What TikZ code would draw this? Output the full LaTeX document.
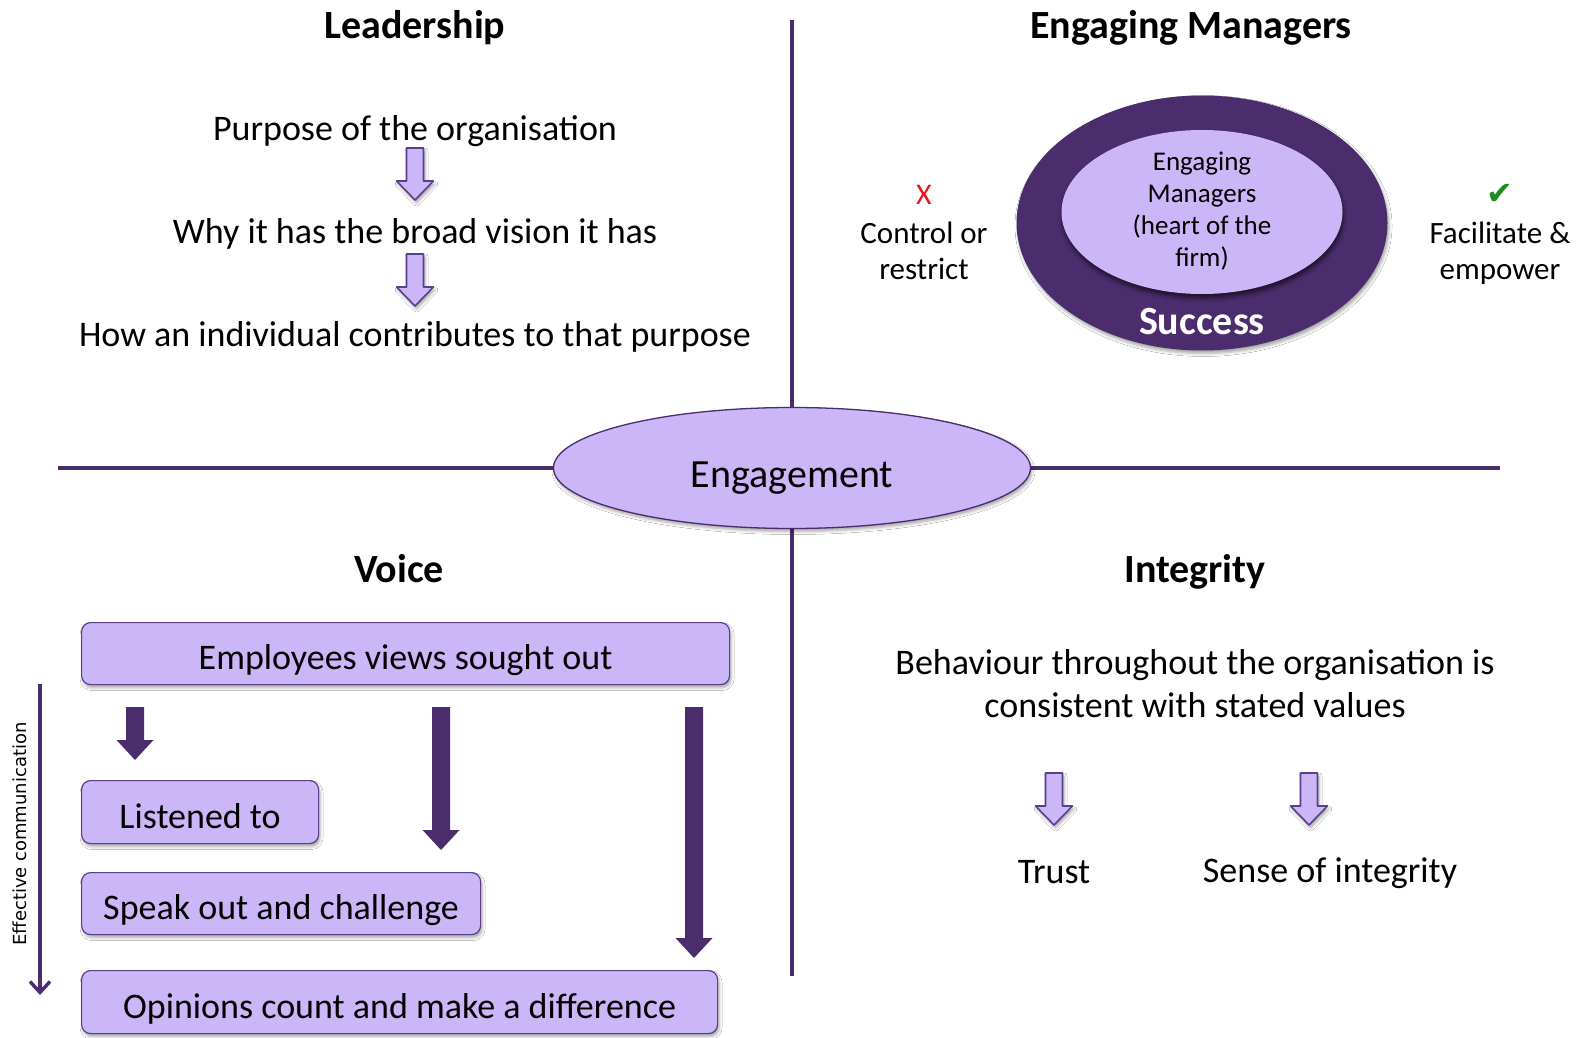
\documentclass[tikz,border=0pt]{standalone}
\usepackage{fontspec}
\setmainfont{Carlito}
\newfontfamily\dejavu{DejaVu Sans}
\usetikzlibrary{shapes.geometric,shadows.blur,arrows.meta}
\definecolor{lav}{HTML}{CBB6F8}
\definecolor{plum}{HTML}{4B2C6C}
\definecolor{edge}{HTML}{5C3F8A}
\definecolor{okgreen}{HTML}{1E8C1E}
\definecolor{nored}{HTML}{E8141E}
\newcommand\fs[1]{\fontsize{#1}{#1}\selectfont}

\begin{document}
\begin{tikzpicture}[x=1pt,y=-1pt,
  title/.style={font=\fs{40}\bfseries, inner sep=0pt},
  body/.style={font=\fs{36}, inner sep=0pt},
  side/.style={font=\fontsize{31}{36}\selectfont, inner sep=0pt, align=center},
  quad/.style={plum, line width=4pt},
  hub/.style={ellipse, minimum width=477pt, minimum height=121pt, inner sep=0pt},
  softshadow/.style={blur shadow={shadow xshift=1.5pt, shadow yshift=-3pt, shadow blur radius=3pt, shadow opacity=35}},
  voicebox/.style={draw=edge, line width=1.2pt, fill=lav, rounded corners=9pt, inner sep=0pt,
                   text height=34pt, text depth=2pt, font=\fs{36}, softshadow},
  hollow/.style={draw=edge, line width=1.6pt, fill=lav, line join=round, softshadow},
  pics/hollowdown/.style={code={
    \path[hollow] (-8.5,0) -- (-8.5,33) -- (-18.5,33) -- (0,52) -- (18.5,33) -- (8.5,33) -- (8.5,0) -- cycle;}},
  pics/soliddown/.style={code={
    \fill[plum] (-9,0) -- (-9,#1-20) -- (-18.5,#1-20) -- (0,#1) -- (18.5,#1-20) -- (9,#1-20) -- (9,0) -- cycle;}},
]
\useasboundingbox (0,0) rectangle (1585,1038);
\fill[white] (0,0) rectangle (1585,1038);

% the two axes meet at the central hub
\node[hub] (eng) at (792,468) {};
\coordinate (axtop) at (792,20);
\coordinate (axbot) at (792,976);
\coordinate (axleft) at (58,468);
\coordinate (axright) at (1500,468);
\draw[quad] (axtop) -- (eng.north);
\draw[quad] (eng.south) -- (axbot);
\draw[quad] (axleft) -- (eng.west);
\draw[quad] (eng.east) -- (axright);
\node[hub, draw=plum, line width=1.3pt, fill=lav, softshadow] (engfill) at (eng.center) {};
\node[font=\fs{40}, inner sep=0pt] (engt) at ([yshift=-10pt]eng.center) {Engagement};

% Leadership
\node[title] (lead) at (415,28) {Leadership};
\node[body] (l1) at (415,131) {Purpose of the organisation};
\pic (la1) at (415,148) {hollowdown};
\node[body] (l2) at (415,234) {Why it has the broad vision it has};
\pic (la2) at (415,254) {hollowdown};
\node[body] (l3) at (415,337) {How an individual contributes to that purpose};

% Engaging Managers
\node[title] (emt) at (1191,28) {Engaging Managers};
\node[ellipse, fill=plum, minimum width=371pt, minimum height=255pt, inner sep=0pt, softshadow] (outer) at (1202,223) {};
\node[ellipse, fill=lav, minimum width=281pt, minimum height=164pt, inner sep=0pt,
      blur shadow={shadow xshift=1pt, shadow yshift=-4pt, shadow blur radius=4pt, shadow opacity=60}] (inner) at (1202,212) {};
\node[font=\fontsize{27}{32}\selectfont, align=center, inner sep=0pt] (innert) at (1202,211) {Engaging\\Managers\\(heart of the\\firm)};
\node[font=\fs{40}\bfseries, text=white, inner sep=0pt] (succ) at (1202,322) {Success};
\node[font=\fs{30}, text=nored, inner sep=0pt] (cross) at (924,195) {X};
\node[side] (ctrl) at (924,251) {Control or\\restrict};
\node[font=\dejavu\fs{32}, text=okgreen, inner sep=0pt] (tick) at (1500,194) {✔};
\node[side] (facil) at (1500,253) {Facilitate \&\\empower};

% Voice
\node[title] (voice) at (399,569) {Voice};
\node[voicebox, anchor=north west, minimum width=648pt, minimum height=62pt] (v1) at (81,622) {Employees views sought out};
\node[voicebox, anchor=north west, minimum width=237pt, minimum height=63pt] (v2) at (81,780) {Listened to};
\node[voicebox, anchor=north west, minimum width=399pt, minimum height=62pt] (v3) at (81,872) {Speak out and challenge};
\node[voicebox, anchor=north west, minimum width=636pt, minimum height=63pt] (v4) at (81,970) {Opinions count and make a difference};
\pic (va1) at (135,707) {soliddown=53};
\pic (va2) at (441,707) {soliddown=143};
\pic (va3) at (694,707) {soliddown=251};
\coordinate (ectop) at (40,684);
\coordinate (ecbot) at (40,995);
\draw[plum, line width=3.4pt, -{Straight Barb[length=11pt,width=20pt]}] (ectop) -- (ecbot);
\node[font=\dejavu\fs{18}, rotate=90, inner sep=0pt] (ec) at (20,834) {Effective communication};

% Integrity
\node[title] (integ) at (1195,572) {Integrity};
\node[font=\fontsize{36}{43}\selectfont, align=center, inner sep=0pt] (beh) at (1195,684) {Behaviour throughout the organisation is\\consistent with stated values};
\pic (ia1) at (1054,773) {hollowdown};
\pic (ia2) at (1309,773) {hollowdown};
\node[body] (trust) at (1054,872) {Trust};
\node[body] (sense) at (1330,873) {Sense of integrity};
\end{tikzpicture}
\end{document}
